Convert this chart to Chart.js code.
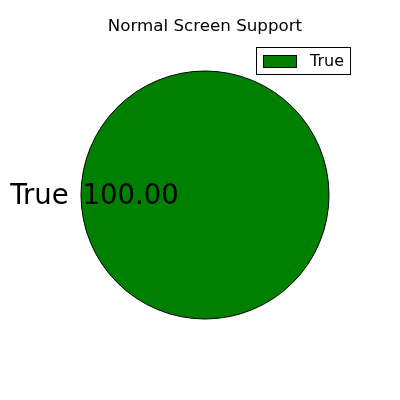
<!DOCTYPE html>
<html><head><meta charset="utf-8">
<script src="https://cdn.jsdelivr.net/npm/chart.js@4"></script>
<style>html,body{margin:0;padding:0;background:#fff}#wrap{width:400px;height:400px}</style>
</head><body><div id="wrap"><canvas id="c" width="400" height="400"></canvas></div>
<script>
const titleText = "Normal Screen Support";
const categories = ["True"];
const values = [100];
const colors = ["#008000"];

const FONT = "'DejaVu Sans', sans-serif";

const overlay = {
  id: 'overlay',
  afterDraw(chart) {
    const ctx = chart.ctx;
    const meta = chart.getDatasetMeta(0);
    const total = values.reduce((a, b) => a + b, 0);
    ctx.save();
    // title
    ctx.fillStyle = '#000';
    ctx.font = "16.7px " + FONT;
    ctx.textAlign = 'center';
    ctx.textBaseline = 'middle';
    ctx.fillText(titleText, 205, 27);
    // slice outlines and labels
    meta.data.forEach((arc, i) => {
      const p = arc.getProps(['x', 'y', 'startAngle', 'endAngle', 'outerRadius'], true);
      ctx.beginPath();
      ctx.arc(p.x, p.y, p.outerRadius, p.startAngle, p.endAngle);
      ctx.strokeStyle = '#000';
      ctx.lineWidth = 1;
      ctx.stroke();
      const mid = (p.startAngle + p.endAngle) / 2;
      const r = p.outerRadius;
      ctx.fillStyle = '#000';
      ctx.font = "27.5px " + FONT;
      ctx.textBaseline = 'middle';
      const lx = p.x + Math.cos(mid) * r * 1.1, ly = p.y + Math.sin(mid) * r * 1.1 + 2;
      ctx.textAlign = Math.cos(mid) < 0 ? 'right' : 'left';
      ctx.fillText(categories[i], lx, ly);
      const px = p.x + Math.cos(mid) * r * 0.6, py = p.y + Math.sin(mid) * r * 0.6 + 2;
      ctx.textAlign = 'center';
      ctx.fillText((values[i] / total * 100).toFixed(2), px, py);
    });
    // legend
    ctx.lineWidth = 1;
    ctx.strokeStyle = '#000';
    ctx.fillStyle = '#fff';
    ctx.fillRect(256.5, 47.5, 94, 27);
    ctx.strokeRect(256.5, 47.5, 94, 27);
    categories.forEach((c, i) => {
      const y = 62 + i * 20;
      ctx.fillStyle = colors[i];
      ctx.fillRect(263.5, y - 6.5, 33, 12);
      ctx.strokeRect(263.5, y - 6.5, 33, 12);
      ctx.fillStyle = '#000';
      ctx.font = "16px " + FONT;
      ctx.textAlign = 'left';
      ctx.textBaseline = 'middle';
      ctx.fillText(c, 310, y);
    });
    ctx.restore();
  }
};

new Chart(document.getElementById('c'), {
  type: 'pie',
  data: {
    labels: categories,
    datasets: [{ data: values, backgroundColor: colors, borderWidth: 0 }]
  },
  options: {
    responsive: false,
    animation: false,
    rotation: 90,
    layout: { padding: { left: 81, right: 71, top: 71, bottom: 81 } },
    plugins: { legend: { display: false }, title: { display: false }, tooltip: { enabled: false } }
  },
  plugins: [overlay]
});
</script>
</body></html>
